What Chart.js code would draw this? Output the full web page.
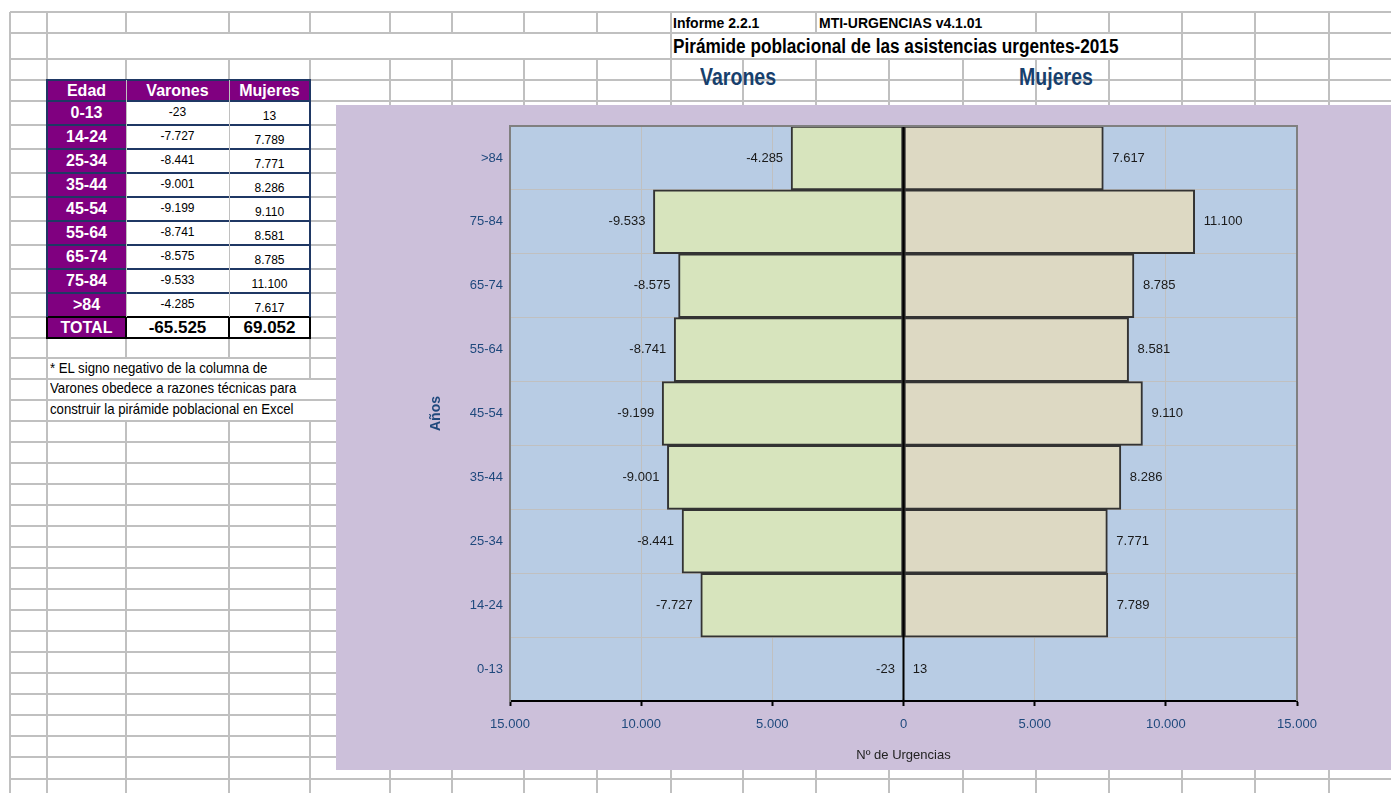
<!DOCTYPE html>
<html lang="es">
<head>
<meta charset="utf-8">
<title>Pirámide poblacional de las asistencias urgentes-2015</title>
<script src="https://cdn.jsdelivr.net/npm/chart.js@4.4.1/dist/chart.umd.min.js"></script>
<style>
  html, body { margin: 0; padding: 0; background: #fff; }
  body { width: 1391px; height: 793px; position: relative; overflow: hidden;
         font-family: "Liberation Sans Narrow", "Arial Narrow", "Liberation Sans", Arial, sans-serif; }
  .gl { position: absolute; background: #c0c0c0; }
  .txt { position: absolute; white-space: nowrap; color: #000; transform-origin: left center; }
  .cell { position: absolute; box-sizing: border-box; display: flex; align-items: center; justify-content: center; }
  .bl { position: absolute; }
  #chartBox { position: absolute; left: 336px; top: 105px; width: 1055px; height: 665px; background: #ccc0da; }
  #chartBox canvas { display: block; }
</style>
</head>
<body>
<div id="sheet"></div>
<div id="chartBox"><canvas id="pyramid" width="1055" height="665"></canvas></div>

<script>
// data
const ageGroups = ['0-13', '14-24', '25-34', '35-44', '45-54', '55-64', '65-74', '75-84', '>84'];
const varones = [-23, -7727, -8441, -9001, -9199, -8741, -8575, -9533, -4285];
const mujeres = [13, 7789, 7771, 8286, 9110, 8581, 8785, 11100, 7617];
const xTicks = [-15000, -10000, -5000, 0, 5000, 10000, 15000];

// 1.234 style numbers
function fmt(v) {
  const s = Math.abs(v).toString().replace(/\B(?=(\d{3})+(?!\d))/g, '.');
  return (v < 0 ? '-' : '') + s;
}
const sum = arr => arr.reduce((a, b) => a + b, 0);

// ---- spreadsheet background ----
const sheet = document.getElementById('sheet');
const colX = [10, 47, 126, 229, 310, 390, 452, 524, 597, 671, 743, 816, 889, 963, 1036, 1109, 1182, 1255, 1329];
const rowY = [12, 33, 59, 80, 101, 125, 149, 173, 197, 221, 245, 269, 293, 317, 338, 358, 379, 400, 421,
              442, 463, 484, 505, 526, 547, 568, 589, 610, 631, 652, 673, 694, 715, 736, 757, 779, 800];
// cells where text runs over, or merged cells, hide the vertical line
const hidden = {
  0: [743, 889, 963],
  1: [126, 229, 310, 390, 452, 524, 597, 743, 816, 889, 963, 1036, 1109],
  15: [126, 229],
  16: [126, 229, 310],
  17: [126, 229, 310]
};

function addDiv(cls, css, text) {
  const d = document.createElement('div');
  d.className = cls;
  Object.assign(d.style, css);
  if (text !== undefined) d.textContent = text;
  sheet.appendChild(d);
  return d;
}

rowY.forEach(y => addDiv('gl', { left: '10px', top: (y - 1) + 'px', width: '1381px', height: '2px' }));
for (let r = 0; r < rowY.length - 1; r++) {
  colX.forEach(x => {
    if ((hidden[r] || []).includes(x)) return;
    addDiv('gl', { left: (x - 1) + 'px', top: rowY[r] + 'px', width: '2px', height: (rowY[r + 1] - rowY[r]) + 'px' });
  });
}

// header texts (sx squeezes the text like Arial Narrow)
function textAt(str, left, cy, size, opts = {}) {
  return addDiv('txt', {
    left: left + 'px', top: (cy - size * 0.6) + 'px', fontSize: size + 'px',
    lineHeight: (size * 1.2) + 'px', fontWeight: opts.bold ? 'bold' : 'normal',
    color: opts.color || '#000',
    transform: 'scaleX(' + (opts.sx || 1) + ')'
  }, str);
}
textAt('Informe 2.2.1', 673, 23, 14, { bold: true });
textAt('MTI-URGENCIAS v4.1.01', 819, 23, 14, { bold: true });
textAt('Pirámide poblacional de las asistencias urgentes-2015', 673, 46, 20, { bold: true, sx: 0.86 });
textAt('Varones', 700, 78, 23, { bold: true, color: '#17406d', sx: 0.85 });
textAt('Mujeres', 1019, 78, 23, { bold: true, color: '#17406d', sx: 0.85 });
textAt('* EL signo negativo de la columna de', 50, 369, 14.5, { sx: 0.91 });
textAt('Varones obedece a razones técnicas para', 50, 389, 14.5, { sx: 0.91 });
textAt('construir la pirámide poblacional en Excel', 50, 410, 14.5, { sx: 0.91 });

// ---- data table ----
const tx = [47, 126, 229, 310];
const ty = [80, 101, 125, 149, 173, 197, 221, 245, 269, 293, 317, 338];
const purple = '#800080', navy = '#1f3864';
const rows = [['Edad', 'Varones', 'Mujeres']]
  .concat(ageGroups.map((g, i) => [g, fmt(varones[i]), fmt(mujeres[i])]))
  .concat([['TOTAL', fmt(sum(varones)), fmt(sum(mujeres))]]);

rows.forEach((row, r) => {
  const last = r === rows.length - 1;
  row.forEach((val, c) => {
    const purpleCell = r === 0 || c === 0;
    const css = {
      left: tx[c] + 'px', top: ty[r] + 'px',
      width: (tx[c + 1] - tx[c]) + 'px', height: (ty[r + 1] - ty[r]) + 'px',
      background: purpleCell ? purple : '#fff',
      color: purpleCell ? '#fff' : '#000',
      fontWeight: (purpleCell || last) ? 'bold' : 'normal',
      fontSize: purpleCell ? '16px' : '17px'
    };
    if (!purpleCell && !last) {
      css.fontFamily = '"Liberation Sans", Arial, sans-serif';
      css.fontSize = '12px';
      if (c === 2) { css.alignItems = 'flex-end'; css.paddingBottom = '2px'; }
      else { css.alignItems = 'flex-start'; css.paddingTop = '4px'; }
    }
    addDiv('cell', css, val);
  });
});
// table borders
ty.forEach((y, i) => {
  const c = i >= ty.length - 2 ? '#000' : navy;
  addDiv('bl', { left: (tx[0] - 1) + 'px', top: (y - 1) + 'px', width: (tx[3] - tx[0] + 2) + 'px', height: '2px', background: c });
});
[tx[0], tx[3]].forEach(x => addDiv('bl', { left: (x - 1) + 'px', top: (ty[0] - 1) + 'px', width: '2px', height: (ty[ty.length - 1] - ty[0] + 2) + 'px', background: navy }));
[tx[1], tx[2]].forEach(x => {
  addDiv('bl', { left: x + 'px', top: ty[0] + 'px', width: '1px', height: (ty[ty.length - 2] - ty[0]) + 'px', background: '#c0c0c0' });
  addDiv('bl', { left: (x - 1) + 'px', top: ty[ty.length - 2] + 'px', width: '2px', height: (ty[ty.length - 1] - ty[ty.length - 2]) + 'px', background: '#000' });
});
[tx[0], tx[3]].forEach(x => addDiv('bl', { left: (x - 1) + 'px', top: ty[ty.length - 2] + 'px', width: '2px', height: (ty[ty.length - 1] - ty[ty.length - 2] + 1) + 'px', background: '#000' }));

// ---- chart ----
const chartFont = '"Liberation Sans", Arial, sans-serif';
Chart.defaults.font.family = chartFont;

const plotFrame = {
  id: 'plotFrame',
  beforeDraw(chart) {
    const { ctx, chartArea: a } = chart;
    ctx.save();
    ctx.fillStyle = '#b8cce4';
    ctx.fillRect(a.left, a.top, a.right - a.left, a.bottom - a.top);
    ctx.restore();
  },
  afterDatasetsDraw(chart) {
    const { ctx, chartArea: a, scales } = chart;
    const x0 = scales.x.getPixelForValue(0);
    ctx.save();
    // axis at zero
    ctx.strokeStyle = '#000';
    ctx.lineWidth = 2;
    ctx.beginPath();
    ctx.moveTo(x0, a.top);
    ctx.lineTo(x0, a.bottom);
    ctx.stroke();
    // top and right frame
    ctx.strokeStyle = '#808080';
    ctx.beginPath();
    ctx.moveTo(a.left, a.top);
    ctx.lineTo(a.right, a.top);
    ctx.lineTo(a.right, a.bottom);
    ctx.stroke();
    // value labels
    ctx.font = '13px ' + chartFont;
    ctx.fillStyle = '#1a1a1a';
    ctx.textBaseline = 'middle';
    chart.data.datasets.forEach((ds, i) => {
      chart.getDatasetMeta(i).data.forEach((bar, j) => {
        const v = ds.data[j];
        if (v < 0) {
          ctx.textAlign = 'right';
          ctx.fillText(fmt(v), bar.x - 8, bar.y);
        } else {
          ctx.textAlign = 'left';
          ctx.fillText(fmt(v), bar.x + 9, bar.y);
        }
      });
    });
    ctx.restore();
  }
};

new Chart(document.getElementById('pyramid'), {
  type: 'bar',
  data: {
    labels: ageGroups,
    datasets: [
      {
        label: 'Varones',
        data: varones,
        backgroundColor: '#d7e4bd',
        borderColor: '#333',
        borderWidth: 2,
        borderSkipped: false,
        categoryPercentage: 1,
        barPercentage: 1
      },
      {
        label: 'Mujeres',
        data: mujeres,
        backgroundColor: '#ddd9c3',
        borderColor: '#333',
        borderWidth: 2,
        borderSkipped: false,
        categoryPercentage: 1,
        barPercentage: 1
      }
    ]
  },
  options: {
    indexAxis: 'y',
    responsive: false,
    animation: false,
    devicePixelRatio: 1,
    layout: { padding: { left: 0, top: 21, right: 94, bottom: 0 } },
    plugins: {
      legend: { display: false },
      tooltip: { enabled: false }
    },
    scales: {
      x: {
        type: 'linear',
        stacked: true,
        min: xTicks[0],
        max: xTicks[xTicks.length - 1],
        afterBuildTicks: s => { s.ticks = xTicks.map(v => ({ value: v })); },
        afterFit: s => { s.height = 69; },
        grid: { color: '#c0c0c0', lineWidth: 1, tickColor: '#000', tickLength: 5, tickWidth: 2 },
        border: { color: '#000', width: 2 },
        ticks: {
          color: '#1f497d',
          font: { size: 13 },
          padding: 11,
          maxRotation: 0,
          autoSkip: false,
          callback: v => fmt(Math.abs(v))
        },
        title: {
          display: true,
          text: 'Nº de Urgencias',
          color: '#222',
          font: { size: 13 },
          padding: { top: 4, bottom: 7 }
        }
      },
      y: {
        type: 'category',
        stacked: true,
        reverse: true,
        afterFit: s => { s.width = 174; },
        grid: { color: '#c0c0c0', lineWidth: 1, drawTicks: false, offset: true },
        border: { color: '#808080', width: 2 },
        ticks: { color: '#1f497d', font: { size: 13 }, padding: 7 },
        title: {
          display: true,
          text: 'Años',
          color: '#1f497d',
          font: { size: 14, weight: 'bold' },
          padding: { top: 92, bottom: 0 }
        }
      }
    }
  },
  plugins: [plotFrame]
});
</script>
</body>
</html>
